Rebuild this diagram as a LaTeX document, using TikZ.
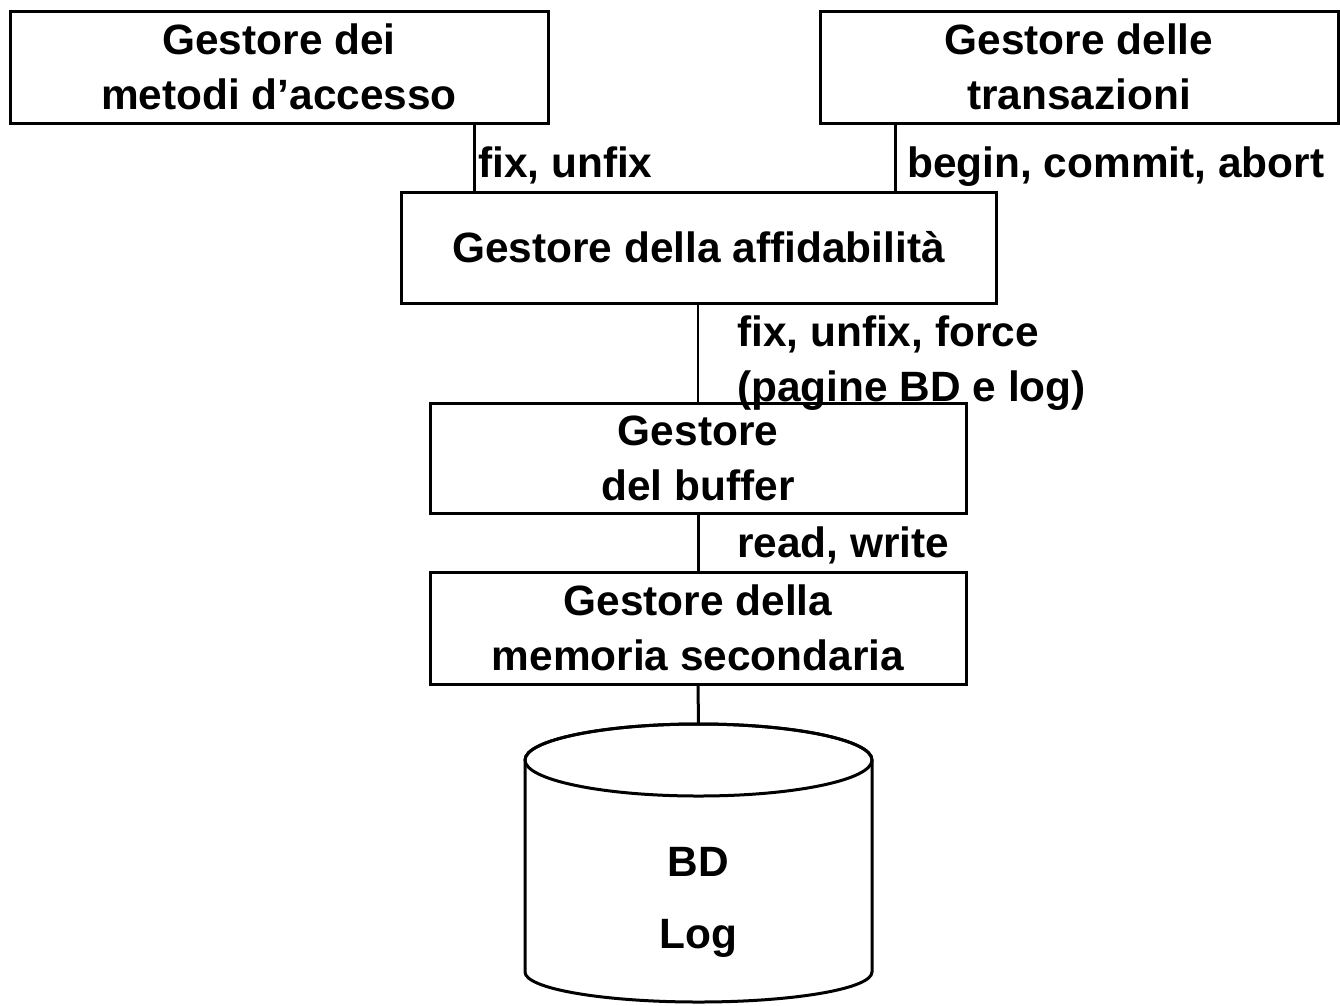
\documentclass[tikz,border=0pt]{standalone}
\usepackage{fontspec}
\setmainfont{Liberation Sans}
\begin{document}
\begin{tikzpicture}[x=1pt,y=-1pt,
  every node/.style={font=\bfseries\fontsize{42.4}{55}\selectfont},
  box/.style={draw=black,line width=3pt,rectangle,align=center,inner sep=0pt},
  lab/.style={anchor=base west,align=left,inner sep=0pt},
  conn/.style={line width=3pt},
  thinconn/.style={line width=2.2pt}]
\useasboundingbox (0,0) rectangle (1340,1005);
\fill[white] (0,0) rectangle (1340,1005);
% boxes
\node[box,minimum width=538pt,minimum height=112pt] (A) at (279,67) {Gestore dei\\metodi d’accesso};
\node[box,minimum width=518pt,minimum height=112pt] (B) at (1079,67) {Gestore delle\\transazioni};
\node[box,minimum width=595pt,minimum height=111pt] (C) at (698.5,247.5) {Gestore della affidabilità};
\node[box,minimum width=536pt,minimum height=110pt] (D) at (698,458) {Gestore\\del buffer};
\node[box,minimum width=536pt,minimum height=112pt] (E) at (698,628) {Gestore della\\memoria secondaria};
% cylinder
\coordinate (cyltop) at (698.5,724);
\draw[line width=3pt,fill=white]
  (525,760) arc[start angle=180,end angle=360,x radius=173.5,y radius=36]
  -- (872,972) arc[start angle=0,end angle=180,x radius=173.5,y radius=30]
  -- cycle;
\draw[line width=3pt] (698.5,760) ellipse[x radius=173.5,y radius=36];
\node (bd) at (698.5,862) {BD};
\node (log) at (698.5,938) {Log};
% connectors
\coordinate (xa) at (474,0);
\coordinate (xb) at (895,0);
\draw[conn] (A.south -| xa) -- (C.north -| xa);
\draw[conn] (B.south -| xb) -- (C.north -| xb);
\draw[thinconn] (C.south -| D.north) -- (D.north);
\draw[conn] (D.south) -- (E.north);
\draw[conn] (E.south) -- (cyltop);
% labels
\node[lab] (l1) at (478,177) {fix, unfix};
\node[lab] (l2) at (907,177) {begin, commit, abort};
\node[lab] (l3) at (737,401) {fix, unfix, force\\(pagine BD e log)};
\node[lab] (l4) at (737,557) {read, write};
\end{tikzpicture}
\end{document}
